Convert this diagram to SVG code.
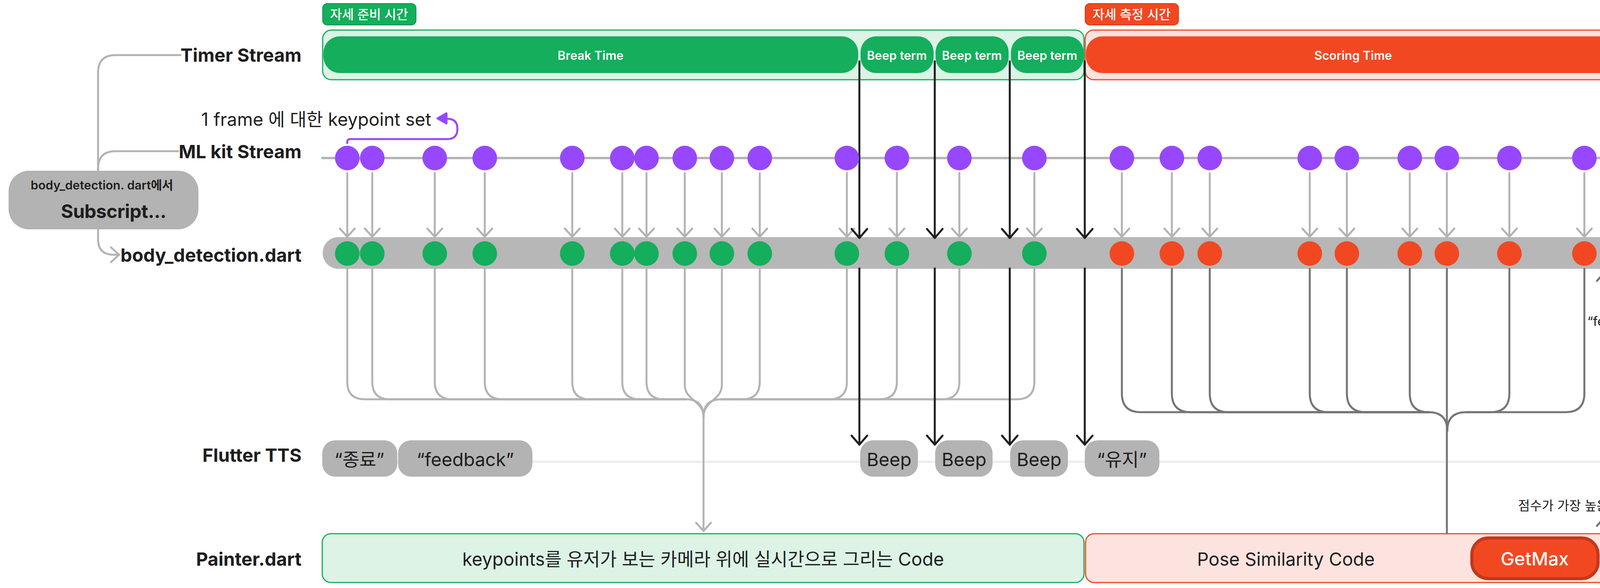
<svg xmlns="http://www.w3.org/2000/svg" width="4979" height="1505" viewBox="0 0 4979 1505">
<defs>
<style>
.t{font-family:Inter,"Noto Sans","Noto Sans CJK KR",sans-serif;fill:#1e1e1e}
.row{font-size:47px;font-weight:700;text-anchor:end}
.w{fill:#fff}
.mid{text-anchor:middle}
.bar{font-size:31px;font-weight:600}
.badge{font-size:33px;font-weight:500}
.pill{fill:#b3b3b3}
.ptxt{font-size:47px;font-weight:400}
.g{stroke:#b3b3b3;stroke-width:5;fill:none;stroke-linecap:round;stroke-linejoin:round}
.dg{stroke:#757575;stroke-width:5;fill:none;stroke-linecap:round;stroke-linejoin:round}
.bk{stroke:#1e1e1e;stroke-width:5;fill:none;stroke-linecap:round;stroke-linejoin:round}
.pd{fill:#9747ff}
.gd{fill:#14ae5c}
.rd{fill:#f24822}
</style>
<marker id="ag" viewBox="-30 -30 60 60" refX="0" refY="0" markerWidth="60" markerHeight="60" markerUnits="userSpaceOnUse" orient="auto" overflow="visible"><path d="M-21 -19 L0 0 L-21 19" fill="none" stroke="#b3b3b3" stroke-width="5" stroke-linecap="round" stroke-linejoin="round"/></marker>
<marker id="adg" viewBox="-30 -30 60 60" refX="0" refY="0" markerWidth="60" markerHeight="60" markerUnits="userSpaceOnUse" orient="auto" overflow="visible"><path d="M-21 -19 L0 0 L-21 19" fill="none" stroke="#757575" stroke-width="5" stroke-linecap="round" stroke-linejoin="round"/></marker>
<marker id="abk" viewBox="-30 -30 60 60" refX="0" refY="0" markerWidth="60" markerHeight="60" markerUnits="userSpaceOnUse" orient="auto" overflow="visible"><path d="M-23 -20 L0 0 L-23 20" fill="none" stroke="#1e1e1e" stroke-width="5" stroke-linecap="round" stroke-linejoin="round"/></marker>
</defs>
<rect width="4979" height="1505" fill="#fff"/>

<g id="row-labels">
<text class="t row" x="772" y="158">Timer Stream</text>
<text class="t row" x="772" y="405">ML kit Stream</text>
<text class="t row" x="772" y="670">body_detection.dart</text>
<text class="t row" x="772" y="1182">Flutter TTS</text>
<text class="t row" x="772" y="1448">Painter.dart</text>
</g>

<g id="subscript">
<rect x="22" y="437" width="486" height="150" rx="52" fill="#b3b3b3"/>
<text class="t mid" x="261" y="485" font-size="31" font-weight="600">body_detection. dart에서</text>
<text class="t" x="156" y="558" font-size="48" font-weight="700" letter-spacing="-0.5">Subscript...</text>
</g>

<g id="timer-break1">
<rect x="826" y="77" width="1949" height="127" rx="22" fill="#dcf3e6" stroke="#14ae5c" stroke-width="3"/>
<rect x="828" y="93" width="1369" height="94" rx="42" fill="#14ae5c"/>
<text class="t w mid bar" x="1512" y="153">Break Time</text>
<rect x="2203" y="93" width="187" height="94" rx="40" fill="#14ae5c"/>
<text class="t w mid bar" x="2296" y="153">Beep term</text>
<rect x="2395" y="93" width="187" height="94" rx="40" fill="#14ae5c"/>
<text class="t w mid bar" x="2488" y="153">Beep term</text>
<rect x="2588" y="93" width="186" height="94" rx="40" fill="#14ae5c"/>
<text class="t w mid bar" x="2681" y="153">Beep term</text>
</g>
<g id="badge-prep1">
<rect x="826" y="9" width="239" height="55" rx="12" fill="#14ae5c" stroke="#109650" stroke-width="2"/>
<text class="t w mid badge" x="945" y="49">자세 준비 시간</text>
</g>
<g id="timer-scoring">
<rect x="2778" y="77" width="1372" height="127" rx="22" fill="#fde3df" stroke="#f24822" stroke-width="3"/>
<rect x="2780" y="93" width="1368" height="94" rx="42" fill="#f24822"/>
<text class="t w mid bar" x="3464" y="153">Scoring Time</text>
</g>
<g id="badge-score">
<rect x="2778" y="9" width="239" height="55" rx="12" fill="#f24822" stroke="#d03c1a" stroke-width="2"/>
<text class="t w mid badge" x="2897" y="49">자세 측정 시간</text>
</g>
<g id="timer-break2">
<rect x="4154" y="75" width="1000" height="127" rx="22" fill="#dcf3e6" stroke="#14ae5c" stroke-width="3"/>
<rect x="4156" y="91" width="1000" height="94" rx="42" fill="#14ae5c"/>
<text class="t w mid bar" x="4697" y="151">Break Time</text>
</g>
<g id="badge-prep2">
<rect x="4154" y="7" width="239" height="55" rx="12" fill="#14ae5c" stroke="#109650" stroke-width="2"/>
<text class="t w mid badge" x="4273" y="47">자세 준비 시간</text>
</g>

<g id="mlkit-line">
<line x1="825" y1="404.5" x2="4985" y2="404.5" stroke="#b3b3b3" stroke-width="6" stroke-linecap="round"/>
</g>

<g id="body-bar">
<rect x="826" y="607" width="4127" height="81" rx="40" fill="#b7b7b7"/>
</g>

<g id="tts-line">
<line x1="825" y1="1182" x2="4979" y2="1182" stroke="#eeeeee" stroke-width="6"/>
</g>

<g id="connectors">
<path class="g" d="M251 437 V186 Q251 141 296 141 H462" stroke-width="6"/>
<path class="g" d="M251 437 V432 Q251 387 296 387 H456" stroke-width="6"/>
<path class="g" d="M251 587 V612 Q251 652 291 652 H305" stroke-width="6" marker-end="url(#ag)"/>
<path d="M889 366 V363 Q889 356 897 356 H1145 Q1171 356 1171 330 Q1171 304 1145 304 H1140" fill="none" stroke="#9747ff" stroke-width="5" stroke-linecap="round"/>
<polygon points="1120,303 1143,290 1143,316" fill="#9747ff" stroke="#9747ff" stroke-width="5" stroke-linejoin="round"/>
<g class="g" marker-end="url(#ag)">
<path d="M889 443 V606"/><path d="M953 443 V606"/><path d="M1113 443 V606"/><path d="M1241 443 V606"/>
<path d="M1465 443 V606"/><path d="M1593 443 V606"/><path d="M1655 443 V606"/><path d="M1753 443 V606"/>
<path d="M1848 443 V606"/><path d="M1945 443 V606"/><path d="M2168 443 V606"/><path d="M2296 443 V606"/>
<path d="M2456 443 V606"/><path d="M2648 443 V606"/>
<path d="M2872 443 V606"/><path d="M3000 443 V606"/><path d="M3097 443 V606"/><path d="M3353 443 V606"/>
<path d="M3448 443 V606"/><path d="M3609 443 V606"/><path d="M3704 443 V606"/><path d="M3864 443 V606"/>
<path d="M4056 443 V606"/>
</g>
<g class="g">
<path d="M889 688 V977 Q889 1022 934 1022 H1756 Q1801 1022 1801 1067"/>
<path d="M953 688 V977 Q953 1022 998 1022 H1756"/>
<path d="M1113 688 V977 Q1113 1022 1158 1022 H1756"/>
<path d="M1241 688 V977 Q1241 1022 1286 1022 H1756"/>
<path d="M1465 688 V977 Q1465 1022 1510 1022 H1756"/>
<path d="M1593 688 V977 Q1593 1022 1638 1022 H1756"/>
<path d="M1655 688 V977 Q1655 1022 1700 1022 H1756"/>
<path d="M1753 688 V985 C1753 1025 1801 1025 1801 1067"/>
<path d="M1848 688 V985 C1848 1025 1801 1025 1801 1067"/>
<path d="M1945 688 V977 Q1945 1022 1900 1022 H1846 Q1801 1022 1801 1067"/>
<path d="M2168 688 V977 Q2168 1022 2123 1022 H1846"/>
<path d="M2296 688 V977 Q2296 1022 2251 1022 H1846"/>
<path d="M2456 688 V977 Q2456 1022 2411 1022 H1846"/>
<path d="M2648 688 V977 Q2648 1022 2603 1022 H1846"/>
<path d="M1801 1067 V1359" marker-end="url(#ag)"/>
</g>
<g class="dg">
<path d="M2872 688 V1007 Q2872 1055 2920 1055 H3657 Q3705 1055 3705 1103"/>
<path d="M3000 688 V1007 Q3000 1055 3048 1055 H3657"/>
<path d="M3097 688 V1007 Q3097 1055 3145 1055 H3657"/>
<path d="M3353 688 V1007 Q3353 1055 3401 1055 H3657"/>
<path d="M3448 688 V1007 Q3448 1055 3496 1055 H3657"/>
<path d="M3609 688 V1007 Q3609 1055 3657 1055"/>
<path d="M3864 688 V1007 Q3864 1055 3816 1055 H3753 Q3705 1055 3705 1103"/>
<path d="M4056 688 V1007 Q4056 1055 4008 1055 H3753"/>
<path d="M3704 688 V1395 Q3704 1430 3739 1430 H3760" marker-end="url(#adg)"/>
<path d="M4092 1430 Q4107 1430 4107 1412 V1325" marker-end="url(#adg)"/>
<path d="M4107 1261 V698" marker-end="url(#adg)"/>
</g>
<g class="bk">
<path d="M2200 157 V609" marker-end="url(#abk)"/>
<path d="M2393 157 V609" marker-end="url(#abk)"/>
<path d="M2585 157 V609" marker-end="url(#abk)"/>
<path d="M2777 157 V609" marker-end="url(#abk)"/>
<path d="M4153 157 V609" marker-end="url(#abk)"/>
<path d="M2200 687 V1138" marker-end="url(#abk)"/>
<path d="M2393 687 V1138" marker-end="url(#abk)"/>
<path d="M2585 687 V1138" marker-end="url(#abk)"/>
<path d="M2777 687 V1138" marker-end="url(#abk)"/>
<path d="M4153 690 V783"/>
<path d="M4153 859 V1165" marker-end="url(#abk)"/>
</g>
<text class="t mid" x="4151" y="834" font-size="33">“feedback”</text>
<text class="t mid" x="4106" y="1306" font-size="33">점수가 가장 높은 feedback 1개</text>
</g>

<g id="frame-label">
<text class="t" x="1104" y="322" font-size="46" text-anchor="end">1 frame 에 대한 keypoint set</text>
</g>

<g id="mlkit-dots" class="pd">
<circle cx="889" cy="404.5" r="31.5"/><circle cx="953" cy="404.5" r="31.5"/><circle cx="1113" cy="404.5" r="31.5"/><circle cx="1241" cy="404.5" r="31.5"/>
<circle cx="1465" cy="404.5" r="31.5"/><circle cx="1593" cy="404.5" r="31.5"/><circle cx="1655" cy="404.5" r="31.5"/><circle cx="1753" cy="404.5" r="31.5"/>
<circle cx="1848" cy="404.5" r="31.5"/><circle cx="1945" cy="404.5" r="31.5"/><circle cx="2168" cy="404.5" r="31.5"/><circle cx="2296" cy="404.5" r="31.5"/>
<circle cx="2456" cy="404.5" r="31.5"/><circle cx="2648" cy="404.5" r="31.5"/>
<circle cx="2872" cy="404.5" r="31.5"/><circle cx="3000" cy="404.5" r="31.5"/><circle cx="3097" cy="404.5" r="31.5"/><circle cx="3353" cy="404.5" r="31.5"/>
<circle cx="3448" cy="404.5" r="31.5"/><circle cx="3609" cy="404.5" r="31.5"/><circle cx="3704" cy="404.5" r="31.5"/><circle cx="3864" cy="404.5" r="31.5"/>
<circle cx="4056" cy="404.5" r="31.5"/>
<circle cx="4221" cy="404.5" r="31.5"/><circle cx="4380" cy="404.5" r="31.5"/><circle cx="4572" cy="404.5" r="31.5"/><circle cx="4797" cy="404.5" r="31.5"/>
</g>

<g id="body-dots-green" class="gd">
<circle cx="889" cy="649" r="31.5"/><circle cx="953" cy="649" r="31.5"/><circle cx="1113" cy="649" r="31.5"/><circle cx="1241" cy="649" r="31.5"/>
<circle cx="1465" cy="649" r="31.5"/><circle cx="1593" cy="649" r="31.5"/><circle cx="1655" cy="649" r="31.5"/><circle cx="1753" cy="649" r="31.5"/>
<circle cx="1848" cy="649" r="31.5"/><circle cx="1945" cy="649" r="31.5"/><circle cx="2168" cy="649" r="31.5"/><circle cx="2296" cy="649" r="31.5"/>
<circle cx="2456" cy="649" r="31.5"/><circle cx="2648" cy="649" r="31.5"/>
<circle cx="4221" cy="649" r="31.5"/><circle cx="4380" cy="649" r="31.5"/><circle cx="4572" cy="649" r="31.5"/><circle cx="4797" cy="649" r="31.5"/>
</g>
<g id="body-dots-red" class="rd">
<circle cx="2872" cy="649" r="31.5"/><circle cx="3000" cy="649" r="31.5"/><circle cx="3097" cy="649" r="31.5"/><circle cx="3353" cy="649" r="31.5"/>
<circle cx="3448" cy="649" r="31.5"/><circle cx="3609" cy="649" r="31.5"/><circle cx="3704" cy="649" r="31.5"/><circle cx="3864" cy="649" r="31.5"/>
<circle cx="4056" cy="649" r="31.5"/>
</g>

<g id="tts-end1"><rect class="pill" x="825" y="1127" width="192" height="93" rx="33"/><text class="t mid ptxt" x="920" y="1193">“종료”</text></g>
<g id="tts-feedback1"><rect class="pill" x="1019" y="1127" width="344" height="93" rx="33"/><text class="t mid ptxt" x="1191" y="1193">“feedback”</text></g>
<g id="tts-beep1"><rect class="pill" x="2202" y="1127" width="148" height="93" rx="33"/><text class="t mid ptxt" x="2276" y="1193">Beep</text></g>
<g id="tts-beep2"><rect class="pill" x="2394" y="1127" width="147" height="93" rx="33"/><text class="t mid ptxt" x="2468" y="1193">Beep</text></g>
<g id="tts-beep3"><rect class="pill" x="2586" y="1127" width="148" height="93" rx="33"/><text class="t mid ptxt" x="2660" y="1193">Beep</text></g>
<g id="tts-keep"><rect class="pill" x="2777" y="1127" width="191" height="93" rx="33"/><text class="t mid ptxt" x="2872" y="1193">“유지”</text></g>
<g id="tts-end2"><rect class="pill" x="4154" y="1127" width="190" height="93" rx="33"/><text class="t mid ptxt" x="4249" y="1193">“종료”</text></g>
<g id="tts-feedback2"><rect class="pill" x="4347" y="1127" width="345" height="93" rx="33"/><text class="t mid ptxt" x="4519" y="1193">“feedback”</text></g>

<g id="painter-code">
<rect x="825" y="1366" width="1950" height="125" rx="22" fill="#dcf3e6" stroke="#14ae5c" stroke-width="3"/>
<text class="t mid" x="1800" y="1448" font-size="46.5">keypoints를 유저가 보는 카메라 위에 실시간으로 그리는 Code</text>
</g>
<g id="pose-similarity">
<rect x="2779" y="1366" width="1372" height="125" rx="22" fill="#fde3df" stroke="#f24822" stroke-width="3"/>
<text class="t mid" x="3292" y="1448" font-size="46.5">Pose Similarity Code</text>
</g>
<g id="getmax">
<rect x="3768" y="1377" width="323" height="104" rx="42" fill="#f24822" stroke="#c2381b" stroke-width="8"/>
<text class="t w mid" x="3929" y="1447" font-size="47" font-weight="500">GetMax</text>
</g>
</svg>
